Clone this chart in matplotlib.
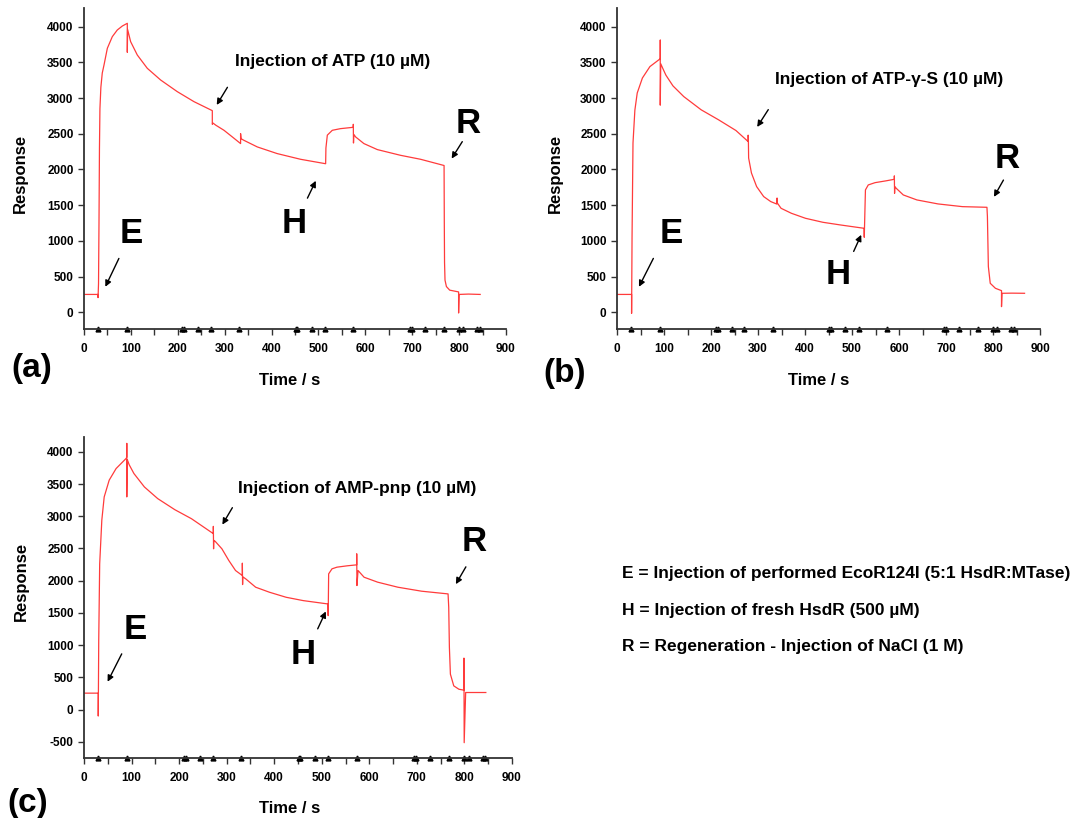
import matplotlib
matplotlib.use('Agg')
import matplotlib.pyplot as plt

plt.rcParams['font.family'] = ['Liberation Sans', 'DejaVu Sans']
plt.rcParams['font.weight'] = 'bold'
plt.rcParams['axes.unicode_minus'] = False

# sensorgram traces (time in s, response)
t_a = [0, 30, 30, 31, 32, 33, 34, 36, 39, 42.7, 49.8, 60.4, 71, 81.8, 92.4, 92.4, 93, 99.5, 113.7, 135, 163.5,
       199, 234.6, 273.7, 273.7, 275, 281, 298.6, 316.4, 334, 334, 335, 341, 369.7, 412, 462, 515.4, 516,
       519, 529.6, 547, 574.4, 574.4, 574.8, 575.5, 579.4, 597, 625.6, 675, 718, 768, 768.5, 769, 770, 773,
       780, 799, 799, 800, 820, 845]
r_a = [250, 250, 205, 400, 1250, 2300, 2850, 3150, 3350, 3462, 3696, 3859, 3952, 4008, 4046, 3640, 3960, 3789,
       3602, 3416, 3252, 3089, 2949, 2823, 2632, 2650, 2620, 2548, 2455, 2362, 2501, 2430, 2408, 2315, 2222,
       2142, 2080, 2300, 2480, 2548, 2571, 2590, 2632, 2370, 2490, 2455, 2362, 2278, 2198, 2142, 2055, 1250,
       700, 450, 360, 310, 285, -10, 250, 255, 250]

t_b = [0, 31, 31, 32, 34, 38, 43, 54, 70, 92, 92, 92, 93, 97, 104, 119, 142, 179, 216, 253, 279, 279, 279.5,
       280, 286, 297, 312, 327, 340, 340.5, 341, 349, 371, 401, 438, 475, 525.5, 526, 528.5, 534.5, 549, 572,
       590, 590, 590.5, 591, 594, 609, 638, 683, 735, 787, 788, 790, 794, 805, 818, 818, 819, 840, 867]
r_b = [250, 250, -15, 1060, 2370, 2830, 3070, 3280, 3440, 3550, 3810, 2900, 3480, 3420, 3320, 3170, 3020, 2835,
       2695, 2545, 2390, 2480, 2390, 2160, 1950, 1760, 1620, 1550, 1515, 1600, 1530, 1456, 1386, 1316, 1260,
       1223, 1176, 1050, 1713, 1783, 1815, 1840, 1862, 1910, 1666, 1760, 1736, 1643, 1573, 1517, 1479, 1470,
       1340, 640, 406, 336, 303, 79, 266, 268, 266]

t_c = [0, 30, 30, 31, 33, 37.5, 42.5, 53, 67.5, 89, 90, 90, 90, 91, 95, 105, 127, 155, 191, 226, 272, 272,
       272.5, 273, 276, 290, 304.5, 318.7, 333, 333, 333.5, 334, 340, 361, 390, 425, 461, 513, 513.5, 514.5,
       521.5, 532, 553.5, 573.5, 573.5, 574, 576.3, 589, 617.6, 660, 710, 765.6, 767, 768.4, 770.5, 777.6,
       788.3, 799, 799, 799.5, 802.6, 845]
r_c = [255, 255, -100, 1070, 2260, 2940, 3300, 3560, 3740, 3900, 3920, 4130, 3300, 3880, 3800, 3663, 3455,
       3274, 3102, 2962, 2730, 2843, 2495, 2626, 2610, 2495, 2314, 2158, 2080, 2272, 1940, 2060, 2029, 1899,
       1821, 1743, 1691, 1639, 1458, 2106, 2184, 2210, 2231, 2246, 2418, 1925, 2158, 2054, 1977, 1899, 1837,
       1795, 1588, 965, 550, 368, 316, 301, 799, -514, 265, 265]

# injection marks on the time axis
marks = [30, 91, 210, 214, 244, 271, 331, 452, 455, 486, 514, 574, 695, 699, 728, 768, 799, 809, 839, 844]

titles = ['Injection of ATP (10 µM)', 'Injection of ATP-γ-S (10 µM)', 'Injection of AMP-pnp (10 µM)']

# annotation spots: text pos, arrow start, arrow end
notes = [
    {'inj': (322, 3510), 'inj_ar': ((309, 3183), (280, 2870)),
     'E': (101, 1106), 'E_ar': ((77, 789), (43, 322)),
     'H': (449, 1237), 'H_ar': ((474, 1563), (497, 1876)),
     'R': (819, 2646), 'R_ar': ((810, 2422), (781, 2119))},
    {'inj': (337, 3262), 'inj_ar': ((325, 2870), (295, 2562)),
     'E': (116, 1106), 'E_ar': ((80, 789), (44, 322)),
     'H': (470, 523), 'H_ar': ((501, 817), (522, 1120)),
     'R': (831, 2156), 'R_ar': ((825, 1885), (799, 1582))},
    {'inj': (324, 3429), 'inj_ar': ((315, 3170), (288, 2833)),
     'E': (107, 1250), 'E_ar': ((82, 903), (47, 394)),
     'H': (461, 851), 'H_ar': ((489, 1214), (511, 1562)),
     'R': (820, 2615), 'R_ar': ((806, 2252), (779, 1909))},
]

fig = plt.figure(figsize=(10.74, 8.18), dpi=100)

boxes = [[0.0782, 0.5978, 0.3929, 0.3924],
         [0.5745, 0.5978, 0.3939, 0.3924],
         [0.0782, 0.0733, 0.3985, 0.3924]]
ylims = [(-234, 4260), (-234, 4260), (-752, 4229)]
yticks = [range(0, 4001, 500), range(0, 4001, 500), range(-500, 4001, 500)]
traces = [(t_a, r_a), (t_b, r_b), (t_c, r_c)]

for i in range(3):
    ax = fig.add_axes(boxes[i])
    t, r = traces[i]
    ax.plot(t, r, color='#ff3b3b', lw=0.9)
    ax.set_xlim(0, 900)
    ax.set_ylim(*ylims[i])
    ax.set_xticks(range(0, 901, 100))
    ax.set_xticks(range(50, 900, 100), minor=True)
    ax.set_yticks(list(yticks[i]))
    for s in ['top', 'right']:
        ax.spines[s].set_visible(False)
    for s in ['left', 'bottom']:
        ax.spines[s].set_linewidth(1.3)
        ax.spines[s].set_color('#333333')
    ax.tick_params(axis='both', which='both', direction='out', length=4, width=1,
                   color='#333333', labelsize=8.5)
    ax.tick_params(axis='x', pad=6)
    for lab in ax.get_xticklabels() + ax.get_yticklabels():
        lab.set_fontweight('bold')
    ax.plot(marks, [ylims[i][0]] * len(marks), ls='none', marker='^', ms=3.5,
            color='black', clip_on=False)

    n = notes[i]
    ax.text(n['inj'][0], n['inj'][1], titles[i], fontsize=12.5, fontweight='bold',
            ha='left', va='center')
    for key in ['inj', 'E', 'H', 'R']:
        a0, a1 = n[key + '_ar']
        ax.annotate('', xy=a1, xytext=a0,
                    arrowprops=dict(arrowstyle='-|>', color='black', lw=1, mutation_scale=9))
        if key != 'inj':
            ax.text(n[key][0], n[key][1], key, fontsize=25, fontweight='bold',
                    ha='center', va='center')

# panel letters and axis titles
for lbl, x, y in [('(a)', 0.0295, 0.550), ('(b)', 0.526, 0.544), ('(c)', 0.026, 0.018)]:
    fig.text(x, y, lbl, fontsize=24, fontweight='bold', ha='center', va='center')
for x, y in [(0.270, 0.535), (0.762, 0.535), (0.270, 0.012)]:
    fig.text(x, y, 'Time / s', fontsize=12, fontweight='bold', ha='center', va='center')
for x, y in [(0.0193, 0.7885), (0.5168, 0.7885), (0.0202, 0.2889)]:
    fig.text(x, y, 'Response', fontsize=12, fontweight='bold', ha='center', va='center',
             rotation=90)

legend_lines = ['E = Injection of performed EcoR124I (5:1 HsdR:MTase)',
                'H = Injection of fresh HsdR (500 µM)',
                'R = Regeneration - Injection of NaCl (1 M)']
for txt, y in zip(legend_lines, [0.2983, 0.2534, 0.2094]):
    fig.text(0.579, y, txt, fontsize=12.5, fontweight='bold', ha='left', va='center')

fig.savefig('out.png', dpi=100)
